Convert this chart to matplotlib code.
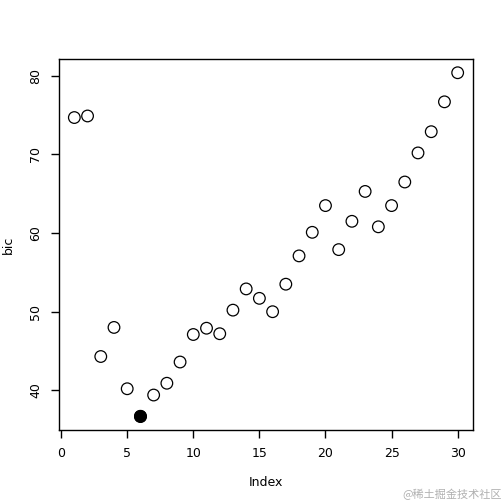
import matplotlib
matplotlib.use('Agg')
import matplotlib.pyplot as plt
import numpy as np

index = np.arange(1, 31)
bic = [74.7, 74.9, 44.3, 48.0, 40.2, 36.7, 39.4, 40.9, 43.6, 47.1,
       47.9, 47.2, 50.2, 52.9, 51.7, 50.0, 53.5, 57.1, 60.1, 63.5,
       57.9, 61.5, 65.3, 60.8, 63.5, 66.5, 70.2, 72.9, 76.7, 80.4]
best = 6
xticks = [0, 5, 10, 15, 20, 25, 30]
yticks = [40, 50, 60, 70, 80]

fig = plt.figure(figsize=(5.04, 5.04), dpi=100)
ax = fig.add_axes([59/504, 74/504, 414/504, 371/504])

bic = np.array(bic)
ax.scatter(index, bic, s=70, facecolors='none', edgecolors='black', linewidths=0.9)
ax.scatter([best], [bic[best - 1]], s=70, facecolors='black', edgecolors='black')

x0, x1 = index.min(), index.max()
y0, y1 = bic.min(), bic.max()
ax.set_xlim(x0 - 0.04 * (x1 - x0), x1 + 0.04 * (x1 - x0))
ax.set_ylim(y0 - 0.04 * (y1 - y0), y1 + 0.04 * (y1 - y0))

ax.set_xticks(xticks)
ax.set_yticks(yticks)
ax.set_yticklabels([str(v) for v in yticks], rotation=90, va='center')
ax.tick_params(axis='both', labelsize=9, length=6, width=1, pad=6)
for s in ax.spines.values():
    s.set_linewidth(1)
    s.set_color('black')

ax.set_xlabel('Index', fontsize=9)
ax.set_ylabel('bic', fontsize=9)
ax.xaxis.label.set_va('center')
ax.yaxis.label.set_va('center')
ax.xaxis.set_label_coords(0.5, -52/371)
ax.yaxis.set_label_coords(-51/414, 0.5)

fig.text(0.995, 0.008, '@稀土掘金技术社区', ha='right', va='bottom', fontsize=8,
         color='#b0b0b0', family=['Noto Sans CJK SC', 'DejaVu Sans'])

fig.savefig('out.png', dpi=100)
